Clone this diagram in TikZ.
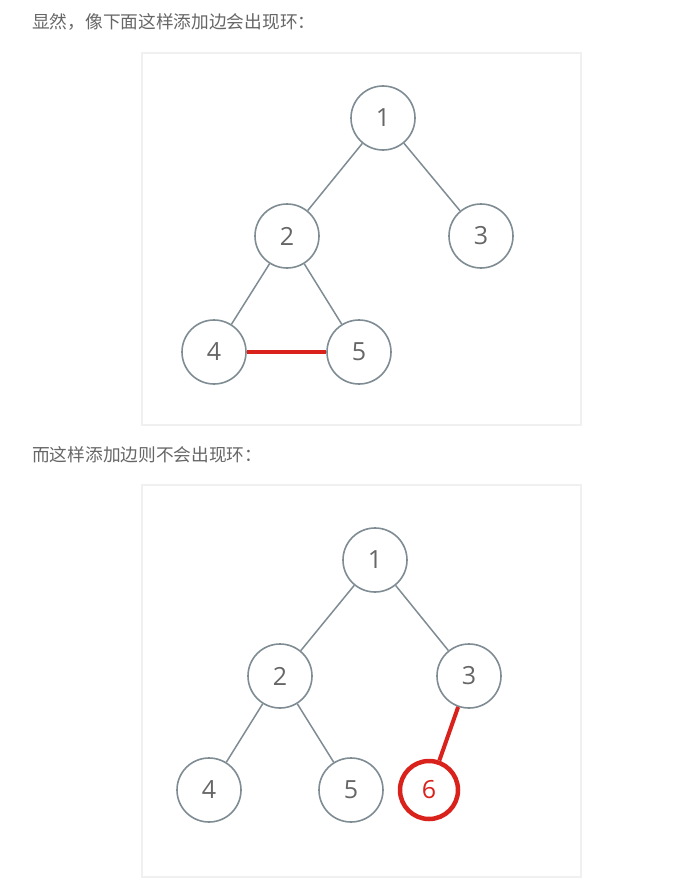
\documentclass[tikz,border=0pt]{standalone}
\usepackage{fontspec}
\usepackage{xcolor}
\newfontfamily\cjk{Noto Sans CJK SC}
\newfontfamily\numfont{Open Sans}
\definecolor{edgegray}{HTML}{7F8C93}
\definecolor{txtgray}{HTML}{666666}
\definecolor{hotred}{HTML}{D9221B}

\begin{document}
\begin{tikzpicture}[x=1pt,y=-1pt,
        vertex/.style={circle,draw=edgegray,line width=1.6pt,fill=white,minimum size=64pt,inner sep=0pt,font=\numfont\fontsize{25}{25}\selectfont,text=txtgray},
        hotvertex/.style={vertex,draw=hotred,line width=4.5pt,minimum size=58pt,text=hotred},
        tree/.style={draw=edgegray,line width=1.5pt},
        hot/.style={draw=hotred,line width=4pt},
        caption/.style={anchor=west,inner sep=0pt,font=\cjk\fontsize{17.7}{17.7}\selectfont,text=txtgray},
        card/.style={fill=white,draw=black!6,line width=1.5pt}]
        \useasboundingbox (0,0) rectangle (684,891);
        % texts
        \node[caption] (cap1) at (32,22) {显然，像下面这样添加边会出现环：};
        \node[caption] (cap2) at (32,455) {而这样添加边则不会出现环：};
        % first card
        \draw[card] (142,53) rectangle (581,425);
        \node[vertex] (a1) at (383,118) {1};
        \node[vertex] (a2) at (287,236) {2};
        \node[vertex] (a3) at (481,236) {3};
        \node[vertex] (a4) at (214,352) {4};
        \node[vertex] (a5) at (359,352) {5};
        \draw[tree] (a1) -- (a2);
        \draw[tree] (a1) -- (a3);
        \draw[tree] (a2) -- (a4);
        \draw[tree] (a2) -- (a5);
        \draw[hot] (a4) -- (a5);
        % second card
        \draw[card] (142,485) rectangle (581,877);
        \node[vertex] (b1) at (375,560) {1};
        \node[vertex] (b2) at (280,676) {2};
        \node[vertex] (b3) at (469,676) {3};
        \node[vertex] (b4) at (209,790) {4};
        \node[vertex] (b5) at (351,790) {5};
        \node[hotvertex] (b6) at (429,790) {6};
        \draw[tree] (b1) -- (b2);
        \draw[tree] (b1) -- (b3);
        \draw[tree] (b2) -- (b4);
        \draw[tree] (b2) -- (b5);
        \draw[hot] (b3) -- (b6);
\end{tikzpicture}
\end{document}
